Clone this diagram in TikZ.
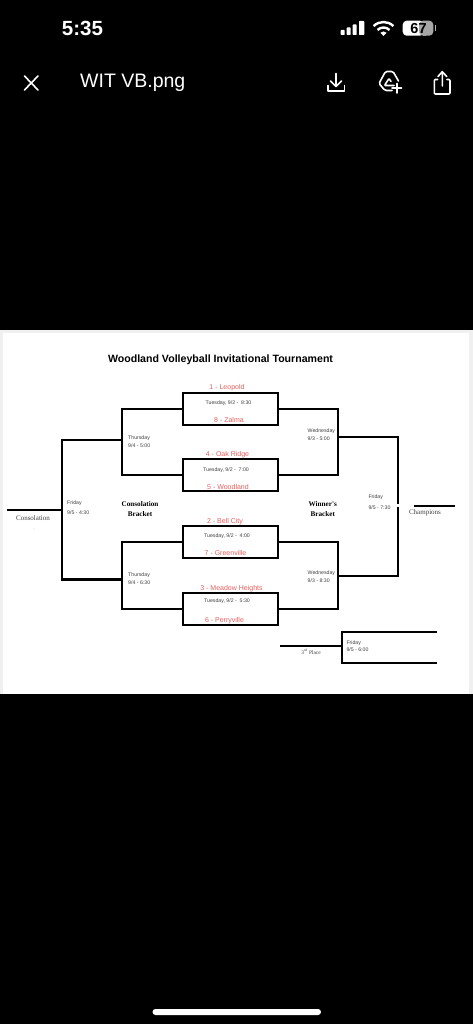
\documentclass[tikz,border=0pt]{standalone}
\usepackage{fontspec}
\setmainfont{Liberation Sans}
\newfontfamily\serifbr{Liberation Serif}
\definecolor{redtxt}{HTML}{E2605F}
\definecolor{greytxt}{HTML}{404040}
\tikzset{
  game/.style={draw=black,line width=2pt,minimum width=95pt,minimum height=32pt,inner sep=0pt,outer sep=0pt,anchor=north west},
  wire/.style={draw=black,line width=2pt,line cap=rect,line join=miter},
  heavywire/.style={wire,line width=2.4pt},
  team/.style={text=redtxt,font=\fontsize{7}{8}\selectfont,inner sep=0pt},
  slot/.style={text=greytxt,font=\fontsize{5.2}{6}\selectfont,inner sep=0pt},
  when/.style={text=greytxt,font=\fontsize{5.2}{6}\selectfont,inner sep=0pt,anchor=west},
  brk/.style={text=black,font=\serifbr\bfseries\fontsize{7.2}{9.4}\selectfont,inner sep=0pt,align=center},
  captext/.style={text=greytxt,font=\serifbr\fontsize{7}{8}\selectfont,inner sep=0pt},
  ui/.style={draw=white,line width=1.6pt,line cap=round,line join=round},
}
\begin{document}
\begin{tikzpicture}[x=1pt,y=-1pt]
\useasboundingbox (0,0) rectangle (473,1024);
\fill[black] (0,0) rectangle (473,1024);
% sheet
\fill[gray!12] (0,329.5) rectangle (473,693.5);
\fill[white] (2.5,333) rectangle (469,693.5);

% status bar
\node[text=white,font=\bfseries\fontsize{20.5}{22}\selectfont,inner sep=0pt] (clock) at (82.5,28.5) {5:35};
\fill[white,rounded corners=.6pt] (340.7,30) rectangle (344.7,35);
\fill[white,rounded corners=.6pt] (346.7,27.5) rectangle (350.7,35);
\fill[white,rounded corners=.6pt] (352.7,24.5) rectangle (356.7,35);
\fill[white,rounded corners=.6pt] (359,21) rectangle (364.3,35);
\draw[white,line width=2.4pt] (373.6,26.1) arc[start angle=-135,end angle=-45,radius=14];
\draw[white,line width=2.4pt] (377.5,30) arc[start angle=-135,end angle=-45,radius=8.5];
\fill[white] (383.5,36) -- (380.3,32.8) arc[start angle=-135,end angle=-45,radius=4.5] -- cycle;
\fill[white,rounded corners=4pt] (402.7,20.7) rectangle (424,35.7);
\fill[gray!70,rounded corners=4pt] (419,20.7) rectangle (433.3,35.7);
\fill[gray!70] (423,20.7) rectangle (426,35.7);
\fill[gray!60] (434.8,25.5) rectangle (436,31);
\node[text=black,font=\bfseries\fontsize{14.5}{16}\selectfont,inner sep=0pt] (batt) at (418.5,28.2) {67};

% app bar
\draw[ui] (24.5,76) -- (38,90) (38,76) -- (24.5,90);
\node[text=white,font=\fontsize{19.5}{22}\selectfont,inner sep=0pt,anchor=west] (fname) at (80,83) {WIT VB.png};
\draw[ui] (336,73.5) -- (336,86) (330.5,81) -- (336,86.5) -- (341.5,81);
\draw[ui] (328,85.5) -- (328,91) -- (344.5,91) -- (344.5,85.5);
\draw[ui,rounded corners=1.5pt] (392,90.5) -- (385,90.5) -- (379,83.5) -- (385.5,71.5) -- (393,71.5) -- (398.5,81);
\draw[ui,rounded corners=.8pt] (394,85.5) -- (384.5,85.5) -- (389,78.5) -- (391,81.5);
\draw[ui] (396.7,83.5) -- (396.7,93) (392,88.3) -- (401.5,88.3);
\draw[ui,rounded corners=1pt] (437.5,79.5) -- (434.3,79.5) -- (434.3,94) -- (450,94) -- (450,79.5) -- (447,79.5);
\draw[ui] (442.3,72.5) -- (442.3,86) (438,76.5) -- (442.3,71.7) -- (446.7,76.5);

% title
\node[text=black,font=\bfseries\fontsize{10.6}{12}\selectfont,inner sep=0pt] (title) at (220.5,360) {Woodland Volleyball Invitational Tournament};

% first-round games
\node[game] (g1) at (182.7,392.7) {};
\node[game] (g2) at (182.7,459.3) {};
\node[game] (g3) at (182.7,526.2) {};
\node[game] (g4) at (182.7,593.2) {};

% joints
\coordinate (cl1) at (122,440);
\coordinate (cl2) at (122,579.3);
\coordinate (cf) at (62,510);
\coordinate (cs) at (8.5,510);
\coordinate (wr1) at (338,437);
\coordinate (wr2) at (338,576);
\coordinate (wf) at (398,503);
\coordinate (wfb) at (398,508);
\coordinate (chL) at (415,506);
\coordinate (chR) at (453.5,506);
\coordinate (tpL) at (280.5,646);
\coordinate (tpJ) at (342.3,646);
\coordinate (tpA) at (342.3,631.7);
\coordinate (tpB) at (342.3,663.3);
\coordinate (tpC) at (435.5,631.7);
\coordinate (tpD) at (435.5,663.3);

% consolation side
\draw[wire] (g1.west) -- (g1.west -| cl1) -- (g2.west -| cl1) -- (g2.west);
\draw[wire] (g3.west) -- (g3.west -| cl2) -- (g4.west -| cl2) -- (g4.west);
\draw[heavywire] (cl1) -- (cl1 -| cf) -- (cl2 -| cf) -- (cl2);
\draw[heavywire] (cs) -- (cf);
% winner side
\draw[wire] (g1.east) -- (g1.east -| wr1) -- (g2.east -| wr1) -- (g2.east);
\draw[wire] (g3.east) -- (g3.east -| wr2) -- (g4.east -| wr2) -- (g4.east);
\draw[wire] (wr1) -- (wr1 -| wf) -- (wf);
\draw[wire] (wr2) -- (wr2 -| wfb) -- (wfb);
\draw[wire] (chL) -- (chR);
% third place
\draw[wire] (tpL) -- (tpJ);
\draw[wire] (tpC) -- (tpA) -- (tpB) -- (tpD);

% teams
\node[team] (t1) at (227,387.5) {1 - Leopold};
\node[team] (t8) at (229,419.5) {8 - Zalma};
\node[team] (t4) at (227.5,454.5) {4 - Oak Ridge};
\node[team] (t5) at (228,486.5) {5 - Woodland};
\node[team] (t2) at (225,521.5) {2 - Bell City};
\node[team] (t7) at (225.5,553) {7 - Greenville};
\node[team] (t3) at (231.5,588.5) {3 - Meadow Heights};
\node[team] (t6) at (224.5,620.5) {6 - Perryville};

% game slots
\node[slot] (s1) at (228.5,403.5) {Tuesday, 9/2 -\ \ 8:30};
\node[slot] (s2) at (226,470) {Tuesday, 9/2 -\ \ 7:00};
\node[slot] (s3) at (227,536) {Tuesday, 9/2 -\ \ 4:00};
\node[slot] (s4) at (227,601) {Tuesday, 9/2 -\ \ 5:30};

\node[when] (w1a) at (128,438.3) {Thursday};
\node[when] (w1b) at (128,445.8) {9/4 - 5:00};
\node[when] (w2a) at (128,575.5) {Thursday};
\node[when] (w2b) at (128,583) {9/4 - 6:30};
\node[when] (w3a) at (67,502.8) {Friday};
\node[when] (w3b) at (67,513) {9/5 - 4:30};
\node[when] (w4a) at (307.5,431) {Wednesday};
\node[when] (w4b) at (307.5,438.3) {9/3 - 5:00};
\node[when] (w5a) at (307.5,573) {Wednesday};
\node[when] (w5b) at (307.5,580.5) {9/3 - 8:30};
\node[when] (w6a) at (368.3,497.5) {Friday};
\node[when] (w6b) at (368.3,507.8) {9/5 - 7:30};
\node[when] (w7a) at (346.3,642.7) {Friday};
\node[when] (w7b) at (346.3,650) {9/5 - 6:00};

% captions
\node[brk] (cb) at (140,509) {Consolation\\Bracket};
\node[brk] (wb) at (322.7,509) {Winner's\\Bracket};
\node[captext] (cons) at (33,517.7) {Consolation};
\node[captext] (champ) at (425,512.8) {Champions};
\node[captext,font=\serifbr\fontsize{5.4}{6}\selectfont] (third) at (311,651.7) {3\textsuperscript{rd} Place};
\fill[gray!70] (34,529) circle[radius=.4];

% home bar
\fill[white,rounded corners=3pt] (152.5,1009) rectangle (321,1015);
\end{tikzpicture}
\end{document}
